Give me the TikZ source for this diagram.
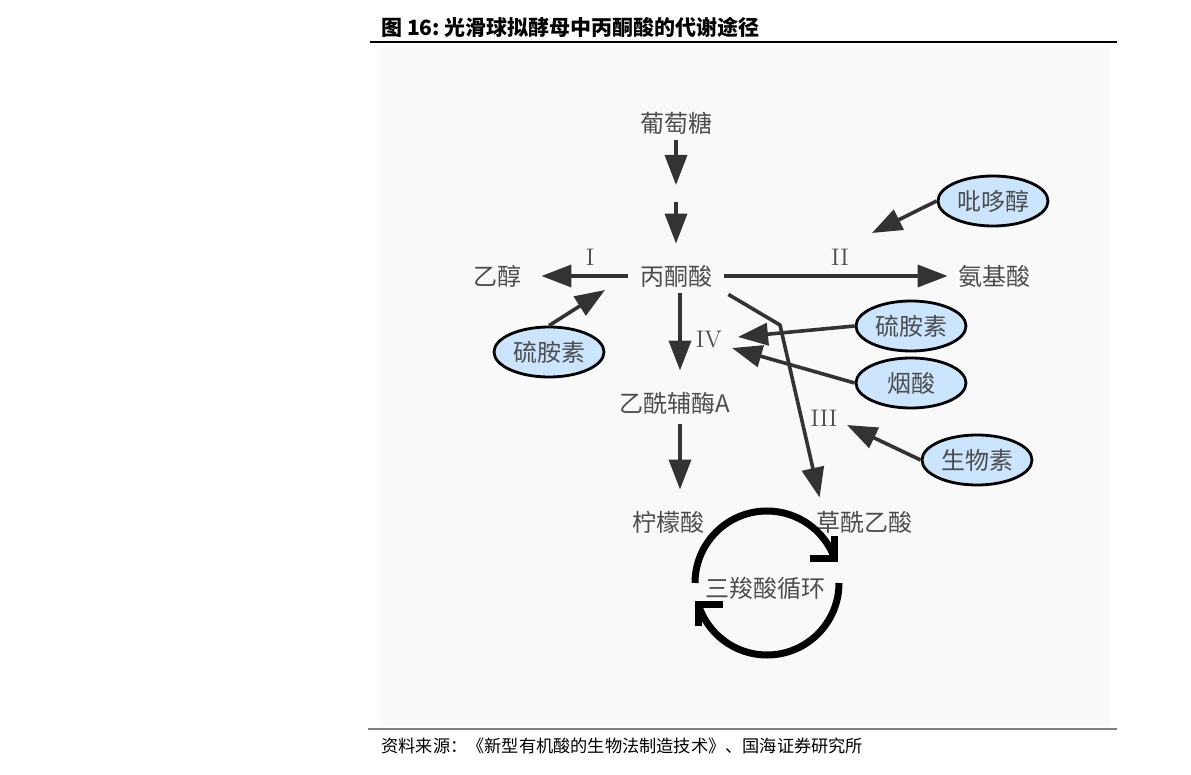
\documentclass[tikz,border=0pt]{standalone}
\usepackage{fontspec}
\newfontfamily\cjk{Noto Sans CJK SC}
\usetikzlibrary{
    arrows.meta,
    calc,
    shapes.geometric
}

\definecolor{bggray}{RGB}{249,249,249}
\definecolor{txtgray}{RGB}{77,77,77}
\definecolor{arrgray}{RGB}{51,51,51}
\definecolor{vitblue}{RGB}{204,229,255}

\begin{document}
\begin{tikzpicture}[x=0.5pt, y=-0.5pt,
    chem/.style={font=\cjk\fontsize{12}{14}\selectfont, text=txtgray, inner sep=3pt},
    vit/.style={ellipse, draw=black, line width=1.4pt, fill=vitblue,
        minimum width=55pt, minimum height=25pt, inner sep=0pt,
        font=\cjk\fontsize{12}{14}\selectfont, text=txtgray},
    roman/.style={font=\fontsize{12}{14}\selectfont, text=txtgray, inner sep=0pt},
    flow/.style={draw=arrgray, line width=1.8pt, -{Triangle[length=15pt,width=11pt]}},
    cyc/.style={draw=black, line width=3.5pt}
]

% Page frame
\useasboundingbox (0,0) rectangle (1191,775);
\fill[bggray] (380,46) rectangle (1110,726);
\draw[line width=0.8pt] (370,42) -- (1117,42);
\draw[line width=1pt, gray] (368,729) -- (1117,729);

% Title and source
\node[anchor=west, inner sep=0pt, font=\cjk\bfseries\fontsize{10.5}{12}\selectfont] (title) at (381,27)
    {图 16:\ 光滑球拟酵母中丙酮酸的代谢途径};
\node[anchor=west, inner sep=0pt, font=\cjk\fontsize{8.6}{10}\selectfont] (source) at (381,746)
    {资料来源：《新型有机酸的生物法制造技术》、国海证券研究所};

% Metabolites
\node[chem] (glucose) at (676,123) {葡萄糖};
\node[chem] (pyruvate) at (676,276) {丙酮酸};
\node[chem] (ethanol) at (497,276) {乙醇};
\node[chem] (amino) at (994,276) {氨基酸};
\node[chem] (acetylcoa) at (675,403) {乙酰辅酶A};
\node[chem] (citrate) at (668,522) {柠檬酸};
\node[chem] (oxaloacetate) at (864,522) {草酰乙酸};
\node[chem] (tca) at (765,588) {三羧酸循环};

% Vitamins
\node[vit] (pyridoxine) at (993,201) {吡哆醇};
\node[vit] (thiaminL) at (549,352) {硫胺素};
\node[vit] (thiaminR) at (911,326) {硫胺素};
\node[vit] (niacin) at (911,383) {烟酸};
\node[vit] (biotin) at (977,460) {生物素};

% Pathway numbers
\node[roman] (labI) at (590,257) {I};
\node[roman] (labII) at (840,257) {II};
\node[roman] (labIII) at (824,418) {III};
\node[roman] (labIV) at (709,340) {IV};

% Glucose to pyruvate
\coordinate (g1) at (676,185);
\coordinate (g2) at (676,202);
\draw[flow] (glucose.south) -- (g1);
\draw[flow, shorten >=7.5pt] (g2) -- (pyruvate.north);

% Branches from pyruvate
\draw[flow, shorten <=3pt, shorten >=7pt] (pyruvate.west) -- (ethanol.east);
\draw[flow, shorten <=3pt, shorten >=2pt] (pyruvate.east) -- (amino.west);
\draw[flow, shorten >=7.5pt] ([xshift=2pt]pyruvate.south) -- ([xshift=2.5pt]acetylcoa.north);
\draw[flow, shorten <=2pt, shorten >=7.5pt] ([xshift=2.5pt]acetylcoa.south) -- ([xshift=6pt]citrate.north);
\coordinate (bend) at (780,325);
\draw[flow, line join=round] ([xshift=5pt,yshift=-0.5pt]pyruvate.south east) -- (bend)
    -- ([xshift=5pt,yshift=3.5pt]oxaloacetate.north west);

% Cofactor arrows
\coordinate (pyrTip) at (872,233);
\coordinate (thiTipL) at (605,290);
\coordinate (thiTipR) at (738,337);
\coordinate (niaTip) at (732,348);
\coordinate (bioTip) at (847,425);
\draw[flow] (pyridoxine.west) -- (pyrTip);
\draw[flow] (thiaminL.north) -- (thiTipL);
\draw[flow] (thiaminR.west) -- (thiTipR);
\draw[flow] (niacin.west) -- (niaTip);
\draw[flow] (biotin.west) -- (bioTip);

% TCA cycle
\coordinate (hub) at ($(tca)+(2,-5)$);
\draw[cyc] ($(hub)+(-72,0)$) arc[start angle=180, end angle=340, radius=72] coordinate (upEnd);
\draw[cyc, line join=miter] ([xshift=-12.5pt]upEnd) -- (upEnd) -- ([yshift=11pt]upEnd);
\draw[cyc] ($(hub)+(72,0)$) arc[start angle=0, end angle=163, radius=72] coordinate (lowEnd);
\draw[cyc, line join=miter] ([xshift=12.5pt]lowEnd) -- (lowEnd) -- ([yshift=-11pt]lowEnd);

\end{tikzpicture}
\end{document}
